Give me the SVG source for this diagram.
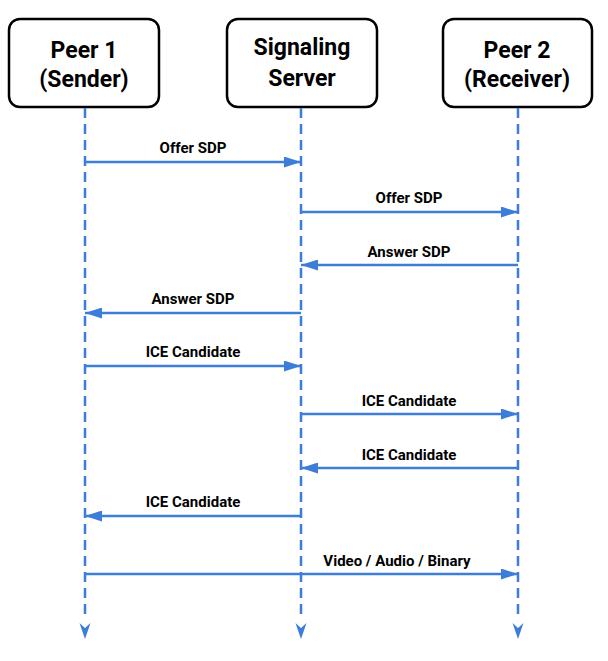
<svg xmlns="http://www.w3.org/2000/svg" width="608" height="661" viewBox="0 0 608 661">
<style>
.box{fill:#fff;stroke:#000;stroke-width:2.5}
.title{font-family:Roboto,"Liberation Sans",sans-serif;font-weight:bold;font-size:23px;fill:#000;text-anchor:middle}
.life{stroke:#3b7dd8;stroke-width:2.5;stroke-dasharray:10 6;fill:none}
.msg{stroke:#3b7dd8;stroke-width:2.5;fill:none;marker-end:url(#ah)}
.lbl{font-family:Roboto,"Liberation Sans",sans-serif;font-weight:bold;font-size:15px;fill:#000;text-anchor:middle}
.end{fill:#3b7dd8}
</style>
<defs>
<marker id="ah" viewBox="0 0 17 11" refX="17" refY="5.5" markerWidth="17" markerHeight="11" markerUnits="userSpaceOnUse" orient="auto">
<path d="M0,0 L17,5.5 L0,11 Z" fill="#3b7dd8"/>
</marker>
</defs>
<g id="peer1">
<rect class="box" x="9" y="19" width="150" height="88" rx="11"/>
<text class="title" x="84" y="58">Peer 1</text>
<text class="title" x="84" y="86.5">(Sender)</text>
</g>
<g id="server">
<rect class="box" x="227" y="19" width="150" height="88" rx="11"/>
<text class="title" x="302" y="54.5">Signaling</text>
<text class="title" x="302" y="85.5">Server</text>
</g>
<g id="peer2">
<rect class="box" x="443" y="19" width="149" height="88" rx="11"/>
<text class="title" x="517" y="58">Peer 2</text>
<text class="title" x="517" y="86.5">(Receiver)</text>
</g>
<g id="connectors">
<line class="life" x1="85" y1="108" x2="85" y2="618"/>
<line class="life" x1="301" y1="108" x2="301" y2="618"/>
<line class="life" x1="518" y1="108" x2="518" y2="618"/>
<path class="end" d="M79.5,623 L85,628 L90.5,623 L85,639 Z"/>
<path class="end" d="M295.5,623 L301,628 L306.5,623 L301,639 Z"/>
<path class="end" d="M512.5,623 L518,628 L523.5,623 L518,639 Z"/>
<line class="msg" x1="85" y1="162" x2="301" y2="162"/>
<line class="msg" x1="301" y1="212" x2="518" y2="212"/>
<line class="msg" x1="518" y1="265" x2="301" y2="265"/>
<line class="msg" x1="301" y1="313" x2="85" y2="313"/>
<line class="msg" x1="85" y1="366" x2="301" y2="366"/>
<line class="msg" x1="301" y1="414" x2="518" y2="414"/>
<line class="msg" x1="518" y1="468" x2="301" y2="468"/>
<line class="msg" x1="301" y1="516" x2="85" y2="516"/>
<line class="msg" x1="85" y1="574" x2="518" y2="574"/>
<text class="lbl" x="193" y="153">Offer SDP</text>
<text class="lbl" x="409" y="203">Offer SDP</text>
<text class="lbl" x="409" y="256.5">Answer SDP</text>
<text class="lbl" x="193" y="304">Answer SDP</text>
<text class="lbl" x="193" y="357">ICE Candidate</text>
<text class="lbl" x="409" y="406">ICE Candidate</text>
<text class="lbl" x="409" y="460">ICE Candidate</text>
<text class="lbl" x="193" y="506.5">ICE Candidate</text>
<text class="lbl" x="397" y="565.5">Video / Audio / Binary</text>
</g>
</svg>
